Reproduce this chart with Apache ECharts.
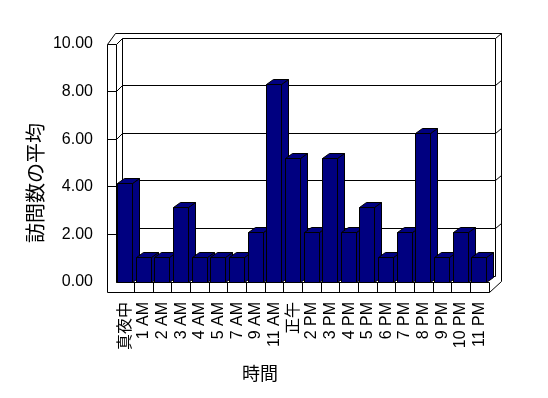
<!DOCTYPE html>
<html>
<head>
<meta charset="utf-8">
<script src="https://cdn.jsdelivr.net/npm/echarts@6/dist/echarts.min.js"></script>
<style>
html,body{margin:0;padding:0;background:#fff;}
#c{width:548px;height:398px;}
</style>
</head>
<body>
<div id="c"></div>
<script>
const categories = ['真夜中','1 AM','2 AM','3 AM','4 AM','5 AM','7 AM','9 AM','11 AM','正午','2 PM','3 PM','4 PM','5 PM','6 PM','7 PM','8 PM','9 PM','10 PM','11 PM'];
const visits = [4,1,1,3,1,1,1,2,8,5,2,5,2,3,1,2,6,1,2,1];
const yTicks = [0,2,4,6,8,10];
const yAxisTitle = '訪問数の平均';
const xAxisTitle = '時間';

const FONT = "'Liberation Sans','Noto Sans CJK JP',sans-serif";
const NAVY = '#000080';
const LINE = {stroke:'#000', lineWidth:1, fill:null};

const chart = echarts.init(document.getElementById('c'), null, {renderer:'canvas'});

function px(v){ return Math.round(v - 0.5) + 0.5; }
function seg(x1,y1,x2,y2){
  return {type:'line', shape:{x1:px(x1),y1:px(y1),x2:px(x2),y2:px(y2)}, style:LINE, silent:true};
}

function renderWalls(params, api){
  const cs = params.coordSys;
  const x0 = cs.x, x1 = cs.x + cs.width;
  const catW = cs.width / categories.length;
  const T = 8.5;            // left wall thickness
  const Dx = 6.5, Dy = 6;   // inner depth
  const Ex = 5.5, Ey = 5;   // back wall thickness
  const y0 = api.coord([0, 0])[1];
  const yTop = api.coord([0, yTicks[yTicks.length-1]])[1];
  const FB = 10;            // floor thickness
  const ch = [];
  ch.push({type:'polygon', shape:{points:[[x0-T,yTop],[x0-T+8,yTop-Dy-Ey],[x1+Dx+Ex,yTop-Dy-Ey],[x1+Dx+Ex,y0-Dy-Ey+FB],[x1,y0+FB],[x0-T,y0+FB]]}, style:{fill:'#fff'}, silent:true});
  yTicks.forEach(function(v){
    const yf = api.coord([0, v])[1];
    if (v !== 0) ch.push(seg(x0-T, yf, x0, yf));
    ch.push(seg(x0, yf, x0+Dx, yf-Dy));
    ch.push(seg(x0+Dx, yf-Dy, x1+Dx, yf-Dy));
    if (v !== 0) ch.push(seg(x1+Dx, yf-Dy, x1+Dx+Ex, yf-Dy-Ey));
  });
  ch.push(seg(x0-T, yTop, x0-T, y0+FB));
  ch.push(seg(x0, yTop, x0, y0));
  ch.push(seg(x0+Dx, yTop-Dy, x0+Dx, y0-Dy));
  ch.push(seg(x0-T, yTop, x0-T+8, yTop-Dy-Ey));
  ch.push(seg(x0-T+8, yTop-Dy-Ey, x1+Dx+Ex, yTop-Dy-Ey));
  ch.push(seg(x1+Dx, yTop-Dy, x1+Dx, y0-Dy));
  ch.push(seg(x1+Dx+Ex, yTop-Dy-Ey, x1+Dx+Ex, y0+FB-Dy-Ey));
  ch.push(seg(x0, y0, x1, y0));
  ch.push(seg(x0-T, y0+FB, x1, y0+FB));
  ch.push(seg(x1, y0, x1, y0+FB));
  ch.push(seg(x1, y0+FB, x1+Dx+Ex, y0+FB-Dy-Ey));
  for (let i = 1; i < categories.length; i++) {
    const x = api.coord([i, 0])[0] - catW/2;
    ch.push(seg(x, y0, x, y0+FB));
  }
  return {type:'group', children:ch};
}

function renderBar(params, api){
  const idx = api.value(0);
  const top = api.coord([idx, api.value(1)]);
  const bot = api.coord([idx, 0]);
  const catW = api.size([1, 0])[0];
  const w = Math.round(catW * 0.8);
  const dx = Math.round(catW * 0.4), dy = 5;
  const l = px(top[0] - w/2 - 0.3), r = l + w;
  const yt = px(top[1]), yb = px(bot[1]);
  const st = {fill:NAVY, stroke:'#000', lineWidth:1};
  return {type:'group', children:[
    {type:'polygon', shape:{points:[[r,yt],[r+dx,yt-dy],[r+dx,yb-dy],[r,yb]]}, style:st},
    {type:'polygon', shape:{points:[[l,yt],[l+dx,yt-dy],[r+dx,yt-dy],[r,yt]]}, style:st},
    {type:'rect', shape:{x:l, y:yt, width:w, height:yb-yt}, style:st}
  ]};
}

const option = {
  backgroundColor:'#fff',
  animation:false,
  grid:[
    {left:116, right:59, top:35, bottom:116},
    {left:116, right:59, top:44, bottom:116}
  ],
  xAxis:[
    {type:'category', gridIndex:0, data:categories,
     axisLine:{show:false}, axisTick:{show:false},
     axisLabel:{rotate:90, margin:20, interval:0, color:'#000', fontSize:16, fontFamily:FONT}},
    {type:'category', gridIndex:1, data:categories, show:false}
  ],
  yAxis:[
    {type:'value', gridIndex:0, min:0, max:10, show:false},
    {type:'value', gridIndex:1, min:0, max:10, interval:2,
     axisLine:{show:false}, axisTick:{show:false}, splitLine:{show:false},
     axisLabel:{margin:23, color:'#000', fontSize:16, fontFamily:FONT,
       formatter:function(v){return v.toFixed(2);}}}
  ],
  graphic:[
    {type:'text', x:37, y:183, rotation:Math.PI/2,
     style:{text:yAxisTitle, fill:'#000', font:'20px ' + FONT, align:'center', verticalAlign:'middle', textAlign:'center', textVerticalAlign:'middle'}},
    {type:'text', x:260, y:375,
     style:{text:xAxisTitle, fill:'#000', font:'18px ' + FONT, align:'center', verticalAlign:'middle', textAlign:'center', textVerticalAlign:'middle'}}
  ],
  series:[
    {type:'custom', xAxisIndex:1, yAxisIndex:1, z:1, renderItem:renderWalls, data:[[0,0]], silent:true},
    {type:'custom', xAxisIndex:0, yAxisIndex:0, z:2, renderItem:renderBar,
     data:visits.map(function(v,i){return [i,v];}), encode:{x:0,y:1}, silent:true}
  ]
};
chart.setOption(option);
</script>
</body>
</html>
